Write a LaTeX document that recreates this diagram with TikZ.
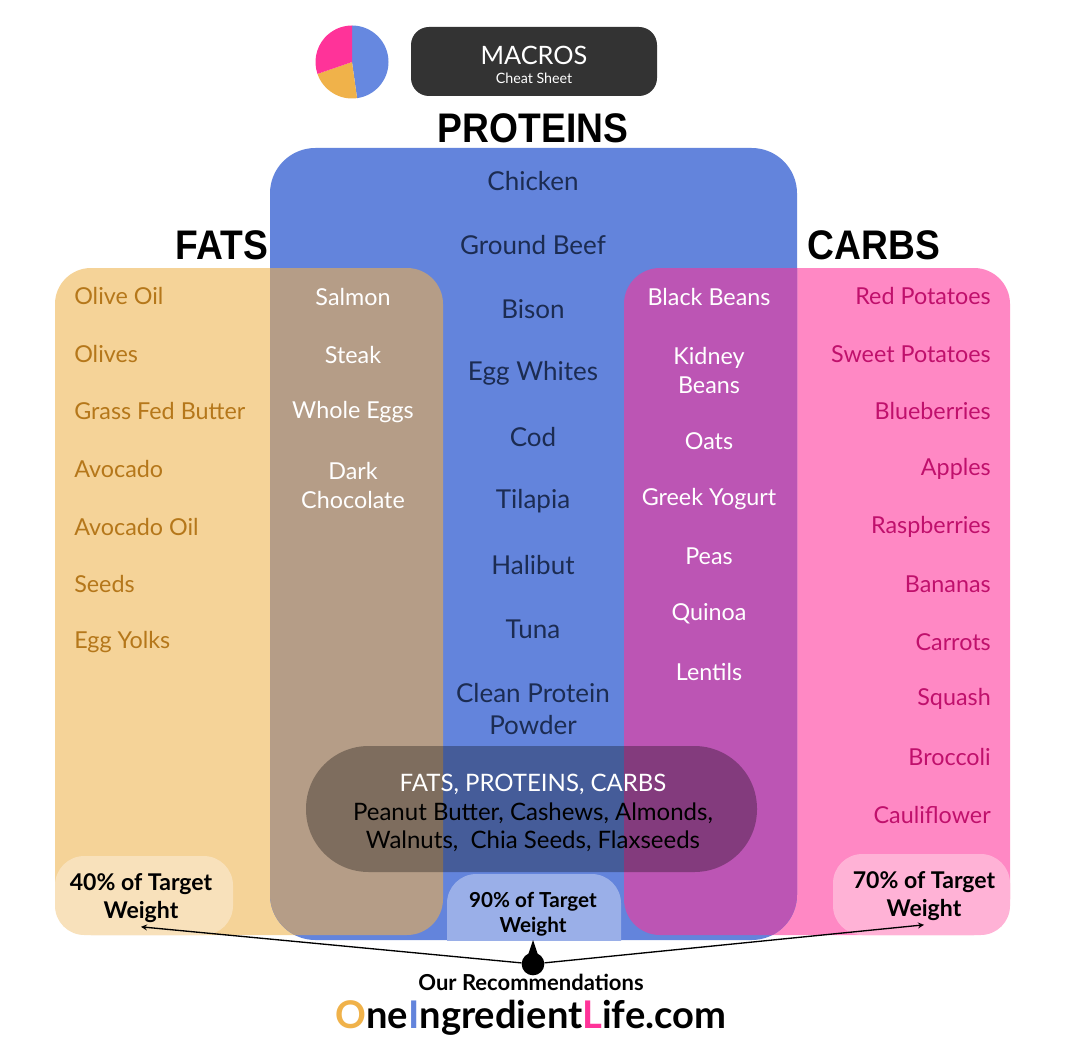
\documentclass[tikz,border=0pt]{standalone}
\usepackage{fontspec}
\setmainfont{Lato}
\newfontfamily\headfont[FakeStretch=0.9]{Liberation Sans}

\definecolor{fatsfill}{HTML}{F5D398}
\definecolor{profill}{HTML}{6384DC}
\definecolor{carbfill}{HTML}{FF88C4}
\definecolor{fpfill}{HTML}{B59D87}
\definecolor{pcfill}{HTML}{BC55B4}
\definecolor{fatstext}{HTML}{B5771A}
\definecolor{protext}{HTML}{1C2C52}
\definecolor{carbtext}{HTML}{C0106C}
\definecolor{fatpctfill}{HTML}{F8E1BB}
\definecolor{propctfill}{HTML}{9AAFE8}
\definecolor{carbpctfill}{HTML}{FFB2D6}
\definecolor{macrofill}{HTML}{333333}
\definecolor{piepink}{HTML}{FF3399}
\definecolor{pieorange}{HTML}{F0B24A}
\definecolor{pieblue}{HTML}{6688E0}

\newcommand{\itemfont}{\fontsize{17.5}{21.75}\selectfont}
\newcommand{\profont}{\fontsize{19.5}{24}\selectfont}
\newcommand{\pctfont}{\fontsize{17.3}{21}\selectfont\bfseries}

\begin{document}
\begin{tikzpicture}[x=0.75pt,y=-0.75pt,>=stealth,
 fatitem/.style={anchor=west,inner sep=0,text=fatstext,font=\itemfont},
 whiteitem/.style={inner sep=0,text=white,align=center,font=\itemfont},
 proitem/.style={inner sep=0,text=protext,align=center,font=\profont},
 carbitem/.style={anchor=east,inner sep=0,text=carbtext,font=\itemfont},
 header/.style={inner sep=0,font=\headfont\fontsize{31}{31}\selectfont\bfseries},
 pcttext/.style={inner sep=3pt,align=center,font=\pctfont}]
 \useasboundingbox (0,0) rectangle (1066,1059);
 \fill[white] (0,0) rectangle (1066,1059);

 % pie and title
 \fill[pieblue] (352,62) -- ++(-90:36.5) arc[start angle=-90,end angle=82,radius=36.5] -- cycle;
 \fill[pieorange] (352,62) -- ++(82:36.5) arc[start angle=82,end angle=161,radius=36.5] -- cycle;
 \fill[piepink] (352,62) -- ++(161:36.5) arc[start angle=161,end angle=270,radius=36.5] -- cycle;
 \fill[macrofill,rounded corners=13.5pt] (411,27) rectangle (657,96);
 \node[text=white,inner sep=0,font=\fontsize{19}{19}\selectfont] (macros) at (534,55) {MACROS};
 \node[text=white,inner sep=0,font=\fontsize{10.7}{10.7}\selectfont] (cheat) at (534,78) {Cheat Sheet};

 % the three groups
 \fill[fatsfill,rounded corners=27pt] (55,268) rectangle (443,935);
 \fill[carbfill,rounded corners=27pt] (624,268) rectangle (1010,935);
 \fill[profill,rounded corners=34pt] (270,148) rectangle (797,940);
 \begin{scope}
 \clip[rounded corners=27pt] (55,268) rectangle (443,935);
 \fill[fpfill,rounded corners=34pt] (270,148) rectangle (797,940);
 \end{scope}
 \begin{scope}
 \clip[rounded corners=27pt] (624,268) rectangle (1010,935);
 \fill[pcfill,rounded corners=34pt] (270,148) rectangle (797,940);
 \end{scope}

 \node[header] (fats) at (222,245) {FATS};
 \node[header] (proteins) at (533,128) {PROTEINS};
 \node[header] (carbs) at (874,245) {CARBS};

 % fats
 \node[fatitem] (fat1) at (74,296) {Olive Oil};
 \node[fatitem] (fat2) at (74,354) {Olives};
 \node[fatitem] (fat3) at (74,411) {Grass Fed Butter};
 \node[fatitem] (fat4) at (74,469) {Avocado};
 \node[fatitem] (fat5) at (74,527) {Avocado Oil};
 \node[fatitem] (fat6) at (74,584) {Seeds};
 \node[fatitem] (fat7) at (74,642) {Egg Yolks};

 % fats and proteins
 \node[whiteitem] (fp1) at (353,297) {Salmon};
 \node[whiteitem] (fp2) at (353,355) {Steak};
 \node[whiteitem] (fp3) at (353,412) {Whole Eggs};
 \node[whiteitem] (fp4) at (353,485) {Dark\\Chocolate};

 % proteins
 \node[proitem] (pro1) at (533,181) {Chicken};
 \node[proitem] (pro2) at (533,245) {Ground Beef};
 \node[proitem] (pro3) at (533,309) {Bison};
 \node[proitem] (pro4) at (533,373) {Egg Whites};
 \node[proitem] (pro5) at (533,437) {Cod};
 \node[proitem] (pro6) at (533,501) {Tilapia};
 \node[proitem] (pro7) at (533,565) {Halibut};
 \node[proitem] (pro8) at (533,629) {Tuna};
 \node[proitem] (pro9) at (533,709) {Clean Protein\\Powder};

 % proteins and carbs
 \node[whiteitem] (pc1) at (709,297) {Black Beans};
 \node[whiteitem] (pc2) at (709,370) {Kidney\\Beans};
 \node[whiteitem] (pc3) at (709,441) {Oats};
 \node[whiteitem] (pc4) at (709,499) {Greek Yogurt};
 \node[whiteitem] (pc5) at (709,556) {Peas};
 \node[whiteitem] (pc6) at (709,614) {Quinoa};
 \node[whiteitem] (pc7) at (709,672) {Lentils};

 % carbs
 \node[carbitem] (carb1) at (991,296) {Red Potatoes};
 \node[carbitem] (carb2) at (991,354) {Sweet Potatoes};
 \node[carbitem] (carb3) at (991,411) {Blueberries};
 \node[carbitem] (carb4) at (991,469) {Apples};
 \node[carbitem] (carb5) at (991,527) {Raspberries};
 \node[carbitem] (carb6) at (991,584) {Bananas};
 \node[carbitem] (carb7) at (991,642) {Carrots};
 \node[carbitem] (carb8) at (991,699) {Squash};
 \node[carbitem] (carb9) at (991,757) {Broccoli};
 \node[carbitem] (carb10) at (991,815) {Cauliflower};

 % all three
 \fill[black,opacity=0.3,rounded corners=47pt] (306,746) rectangle (757,872);
 \node[inner sep=0,align=center,font=\fontsize{18}{21.5}\selectfont] (all) at (533,813)
 {\textcolor{white}{FATS, PROTEINS, CARBS}\\Peanut Butter, Cashews, Almonds,\\Walnuts,\ \ Chia Seeds, Flaxseeds};

 % targets
 \fill[fatpctfill,rounded corners=22pt] (55,856) rectangle (233,935);
 \fill[carbpctfill,rounded corners=22pt] (833,854) rectangle (1010,935);
 \begin{scope}
 \clip (440,860) rectangle (630,940);
 \fill[propctfill,rounded corners=22pt] (447,874) rectangle (621,970);
 \end{scope}
 \node[pcttext] (fatpct) at (141,898) {40\% of Target\\Weight};
 \node[pcttext,font=\fontsize{15.5}{19}\selectfont\bfseries] (propct) at (533,914) {90\% of Target\\Weight};
 \node[pcttext] (carbpct) at (924,896) {70\% of Target\\Weight};

 \node[circle,fill=black,inner sep=0,minimum size=17pt] (rec) at (533,964) {};
 \fill (533,940) -- (538,955) -- (528,955) -- cycle;
 \draw[->,line width=1pt] (rec) -- (fatpct.south);
 \draw[->,line width=1pt] (rec) -- (carbpct.south);
 \node[inner sep=0,font=\fontsize{16.5}{16.5}\selectfont\bfseries] (ours) at (531,982) {Our Recommendations};
 \node[inner sep=0,font=\fontsize{28.6}{28.6}\selectfont\bfseries] (site) at (531,1018)
 {\textcolor{pieorange}{O}ne\textcolor{profill}{I}ngredient\textcolor{piepink}{L}ife.com};
\end{tikzpicture}
\end{document}
